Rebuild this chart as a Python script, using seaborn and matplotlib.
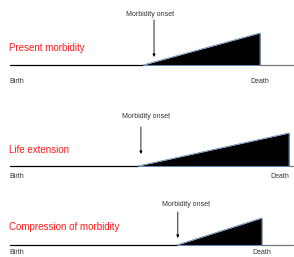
import matplotlib
matplotlib.use("Agg")
import matplotlib.pyplot as plt
import seaborn as sns

# scenarios (ages in years, morbidity as relative burden)
scenarios = ["Present morbidity", "Life extension", "Compression of morbidity"]
onset_age = [42.6, 41.0, 53.4]
death_age = [80.0, 89.3, 80.6]
peak_morbidity = [32, 33, 27]
axis_end_age = 90.6
onset_label = "Morbidity onset"
birth_label = "Birth"
death_label = "Death"

sns.set_theme(style="white")
plt.rcParams['font.family'] = ['Liberation Sans', 'DejaVu Sans']

fig = plt.figure(figsize=(2.94, 2.57), dpi=100)
H = 257.0

# panel layout in pixel rows: (top, bottom, baseline)
rows = [(0, 86, 65), (86, 171, 166), (171, 257, 245)]
arrow_shift = [3.5, 0.9, 0.3]
text_shift = [2.2, 2.4, 2.8]
label_drop = [17, 10, 8]
title_rise = [17, 16, 18]
arrow_top = [45, 39, 33]
arrow_tip = [8, 12, 7]
text_rise = [50, 49, 40]

for i, name in enumerate(scenarios):
    top, bot, base = rows[i]
    ax = fig.add_axes([0, 1 - bot / H, 1, (bot - top) / H])
    ax.set_xlim(-3.2, 90.9)
    ax.set_ylim(-(bot - base), base - top)
    ax.axis('off')

    on, de, pk = onset_age[i], death_age[i], peak_morbidity[i]

    sns.lineplot(x=[0, on], y=[0, 0], ax=ax, color='black', linewidth=0.9)
    sns.lineplot(x=[de, axis_end_age], y=[0, 0], ax=ax, color='#777777', linewidth=0.9)
    ax.fill_between([on, de], [0, 0], [0, pk], color='black', linewidth=0)
    ax.plot([on, de, de], [0, pk, 0], color='#5b86b8', linewidth=0.6)
    ax.plot([on, de], [0, 0], color='#5b86b8', linewidth=0.6)

    ax.text(-0.3, title_rise[i], name, color='#ff1a1a', fontsize=7,
            ha='left', va='center')
    ax.text(-0.3, -label_drop[i], birth_label, color='#333333', fontsize=5,
            ha='left', va='center')
    ha = 'right' if de > 88 else 'center'
    ax.text(de, -label_drop[i], death_label, color='#333333', fontsize=5,
            ha=ha, va='center')

    ax.annotate('', xy=(on + arrow_shift[i], arrow_tip[i]),
                xytext=(on + arrow_shift[i], arrow_top[i]),
                arrowprops=dict(arrowstyle='-|>', color='black', lw=0.6,
                                mutation_scale=4, shrinkA=0, shrinkB=0))
    ax.text(on + text_shift[i], text_rise[i], onset_label, color='#333333',
            fontsize=5, ha='center', va='center')

plt.savefig('out.png', dpi=100)
